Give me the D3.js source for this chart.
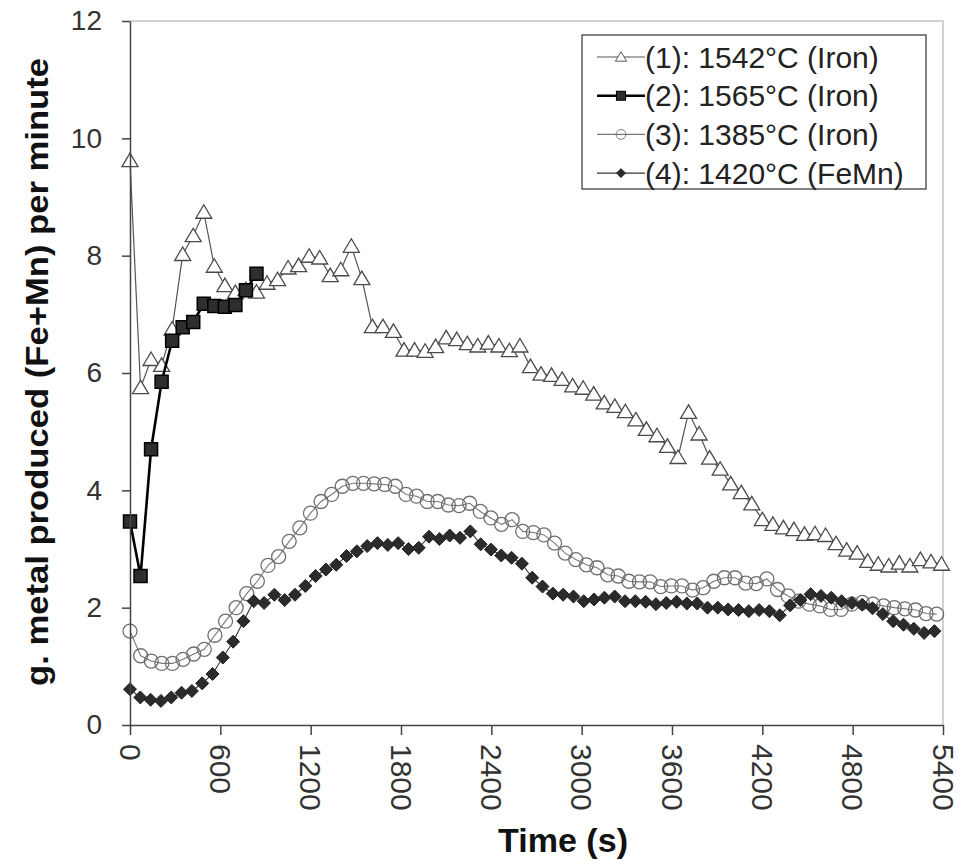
<!DOCTYPE html>
<html>
<head>
<meta charset="utf-8">
<script src="https://cdn.jsdelivr.net/npm/d3@7"></script>
<style>
  body { margin: 0; background: #fff; }
  svg { font-family: "Liberation Sans", Arial, sans-serif; }
</style>
</head>
<body>
<div id="vis"></div>
<script>
// constants for plot design
const FRAME_WIDTH = 961;
const FRAME_HEIGHT = 867;
const MARGINS = {left: 130, right: 18, top: 21, bottom: 142};

const VIS_WIDTH = FRAME_WIDTH - MARGINS.left - MARGINS.right;
const VIS_HEIGHT = FRAME_HEIGHT - MARGINS.top - MARGINS.bottom;

// axis ticks
const X_TICKS = [0, 600, 1200, 1800, 2400, 3000, 3600, 4200, 4800, 5400];
const Y_TICKS = [0, 2, 4, 6, 8, 10, 12];

// legend labels
const SERIES_NAMES = ["(1): 1542°C (Iron)", "(2): 1565°C (Iron)",
                      "(3): 1385°C (Iron)", "(4): 1420°C (FeMn)"];

// sampling interval of each run (s)
const STEP_S = [70, 70, 70.5, 68.5];

// g metal per minute
const RUN1 = [9.62, 5.75, 6.23, 6.13, 6.75, 8.02, 8.34, 8.74, 7.82, 7.49,
              7.37, 7.42, 7.38, 7.53, 7.59, 7.79, 7.83, 7.99, 7.96, 7.66,
              7.76, 8.16, 7.61, 6.79, 6.79, 6.71, 6.39, 6.39, 6.37, 6.45,
              6.60, 6.57, 6.50, 6.46, 6.51, 6.46, 6.38, 6.46, 6.11, 5.98,
              5.96, 5.89, 5.78, 5.74, 5.64, 5.49, 5.43, 5.34, 5.20, 5.04,
              4.93, 4.75, 4.56, 5.33, 4.96, 4.55, 4.36, 4.11, 3.96, 3.77,
              3.50, 3.42, 3.36, 3.33, 3.25, 3.26, 3.23, 3.09, 2.98, 2.93,
              2.79, 2.74, 2.71, 2.76, 2.71, 2.82, 2.78, 2.74];

const RUN2 = [3.47, 2.54, 4.70, 5.85, 6.55, 6.78, 6.87, 7.18, 7.14, 7.13,
              7.16, 7.41, 7.69];

const RUN3 = [1.60, 1.18, 1.09, 1.05, 1.05, 1.12, 1.21, 1.29, 1.53, 1.77,
              2.00, 2.24, 2.45, 2.72, 2.87, 3.13, 3.36, 3.61, 3.81, 3.93,
              4.07, 4.12, 4.12, 4.11, 4.10, 4.07, 3.93, 3.90, 3.81, 3.81,
              3.75, 3.74, 3.78, 3.64, 3.53, 3.42, 3.50, 3.30, 3.28, 3.24,
              3.10, 2.93, 2.82, 2.73, 2.68, 2.56, 2.54, 2.45, 2.44, 2.44,
              2.36, 2.37, 2.37, 2.30, 2.34, 2.45, 2.51, 2.51, 2.42, 2.41,
              2.49, 2.31, 2.20, 2.11, 2.06, 2.03, 1.97, 1.97, 2.06, 2.09,
              2.06, 2.03, 2.00, 1.98, 1.96, 1.90, 1.89];

const RUN4 = [0.61, 0.47, 0.43, 0.41, 0.47, 0.55, 0.58, 0.71, 0.87, 1.15,
              1.42, 1.77, 2.11, 2.08, 2.22, 2.13, 2.22, 2.37, 2.54, 2.65,
              2.73, 2.88, 2.96, 3.05, 3.10, 3.07, 3.10, 3.00, 3.02, 3.21,
              3.17, 3.23, 3.19, 3.30, 3.08, 2.99, 2.89, 2.85, 2.75, 2.51,
              2.36, 2.24, 2.22, 2.19, 2.11, 2.14, 2.17, 2.19, 2.11, 2.11,
              2.10, 2.06, 2.08, 2.10, 2.07, 2.07, 2.00, 2.00, 1.97, 1.96,
              1.94, 1.96, 1.94, 1.87, 2.04, 2.13, 2.23, 2.20, 2.17, 2.11,
              2.08, 2.05, 1.99, 1.89, 1.77, 1.71, 1.64, 1.57, 1.60];

// marker shapes (centred on the point)
const SHAPES = {
  tri: "M0,-7.5L8,6L-8,6Z",
  sq: "M-6.5,-6.5H6.5V6.5H-6.5Z",
  circ: "M7,0A7,7 0 1,1 -7,0A7,7 0 1,1 7,0Z",
  dia: "M0,-6.5L6.5,0L0,6.5L-6.5,0Z"
};

// style for each run
const STYLES = [
  {shape: "tri", fill: "#fff", stroke: "#4a4a4a", sw: 1.3, line: "#555", lw: 1.2},
  {shape: "sq", fill: "#2e2e2e", stroke: "#000", sw: 1.5, line: "#000", lw: 2.6},
  {shape: "circ", fill: "none", stroke: "#6f6f6f", sw: 1.3, line: "#777", lw: 1.1},
  {shape: "dia", fill: "#2b2b2b", stroke: "#222", sw: 1, line: "#333", lw: 1.1}
];

function build_plot() {

  const runs = [RUN1, RUN2, RUN3, RUN4].map((arr, k) => {
    return arr.map((v, i) => { return {t: i * STEP_S[k], v: v}; });
  });

  // scales
  const X_SCALE = d3.scaleLinear()
                    .domain([0, 5400])
                    .range([0, VIS_WIDTH]);

  const Y_SCALE = d3.scaleLinear()
                    .domain([0, 12])
                    .range([VIS_HEIGHT, 0]);

  const FRAME = d3.select("#vis")
                  .append("svg")
                    .attr("width", FRAME_WIDTH)
                    .attr("height", FRAME_HEIGHT);

  const G = FRAME.append("g")
                 .attr("transform", "translate(" + MARGINS.left + "," + MARGINS.top + ")");

  // light frame on top and right
  G.append("path")
    .attr("d", "M0,0H" + VIS_WIDTH + "V" + VIS_HEIGHT)
    .attr("fill", "none")
    .attr("stroke", "#c4c4c4")
    .attr("stroke-width", 1.5);

  // lines + markers
  runs.forEach((data, k) => {
    const st = STYLES[k];
    G.append("path")
      .datum(data)
      .attr("d", d3.line()
          .x((d) => { return X_SCALE(d.t); })
          .y((d) => { return Y_SCALE(d.v); }))
      .attr("fill", "none")
      .attr("stroke", st.line)
      .attr("stroke-width", st.lw);

    G.append("g").selectAll("path")
      .data(data)
      .enter()
      .append("path")
        .attr("d", SHAPES[st.shape])
        .attr("transform", (d) => { return "translate(" + X_SCALE(d.t) + "," + Y_SCALE(d.v) + ")"; })
        .attr("fill", st.fill)
        .attr("stroke", st.stroke)
        .attr("stroke-width", st.sw);
  });

  // x axis
  const xAxis = G.append("g")
      .attr("transform", "translate(0," + VIS_HEIGHT + ")")
      .call(d3.axisBottom(X_SCALE).tickValues(X_TICKS).tickFormat(d3.format("d"))
              .tickSize(10).tickSizeOuter(0));

  xAxis.selectAll("text")
      .attr("transform", "rotate(90)")
      .attr("x", 19)
      .attr("y", 0)
      .attr("dy", "0.36em")
      .style("text-anchor", "start")
      .attr("font-size", "30px")
      .attr("fill", "#333");

  // y axis
  const yAxis = G.append("g")
      .call(d3.axisLeft(Y_SCALE).tickValues(Y_TICKS).tickSize(8).tickPadding(20).tickSizeOuter(0));

  yAxis.selectAll("text")
      .attr("font-size", "28px")
      .attr("fill", "#333");

  [xAxis, yAxis].forEach((ax) => {
    ax.select(".domain").attr("stroke", "#444").attr("stroke-width", 1.5);
    ax.selectAll(".tick line").attr("stroke", "#444").attr("stroke-width", 1.5);
  });

  // axis titles
  FRAME.append("text")
    .attr("transform", "translate(48,372) rotate(-90)")
    .attr("text-anchor", "middle")
    .attr("font-size", "32px")
    .attr("font-weight", "bold")
    .attr("fill", "#111")
    .attr("textLength", 628)
    .attr("lengthAdjust", "spacingAndGlyphs")
    .text("g. metal produced (Fe+Mn) per minute");

  FRAME.append("text")
    .attr("x", 563)
    .attr("y", 852)
    .attr("text-anchor", "middle")
    .attr("font-size", "33px")
    .attr("font-weight", "bold")
    .attr("fill", "#111")
    .attr("textLength", 130)
    .attr("lengthAdjust", "spacingAndGlyphs")
    .text("Time (s)");

  // legend
  const LEG = FRAME.append("g").attr("transform", "translate(582,35)");

  LEG.append("rect")
    .attr("width", 344)
    .attr("height", 154)
    .attr("fill", "#fff")
    .attr("stroke", "#333")
    .attr("stroke-width", 1.2);

  SERIES_NAMES.forEach((name, k) => {
    const st = STYLES[k];
    const yy = 22 + k * 38.7;
    LEG.append("line")
      .attr("x1", 15).attr("x2", 63)
      .attr("y1", yy).attr("y2", yy)
      .attr("stroke", st.line)
      .attr("stroke-width", st.lw);
    LEG.append("path")
      .attr("d", SHAPES[st.shape])
      .attr("transform", "translate(39," + yy + ") scale(0.7)")
      .attr("fill", st.fill)
      .attr("stroke", st.stroke)
      .attr("stroke-width", st.sw);
    LEG.append("text")
      .attr("x", 63)
      .attr("y", yy)
      .attr("dy", "0.35em")
      .attr("font-size", "30px")
      .attr("fill", "#222")
      .text(name);
  });
}

build_plot();
</script>
</body>
</html>
